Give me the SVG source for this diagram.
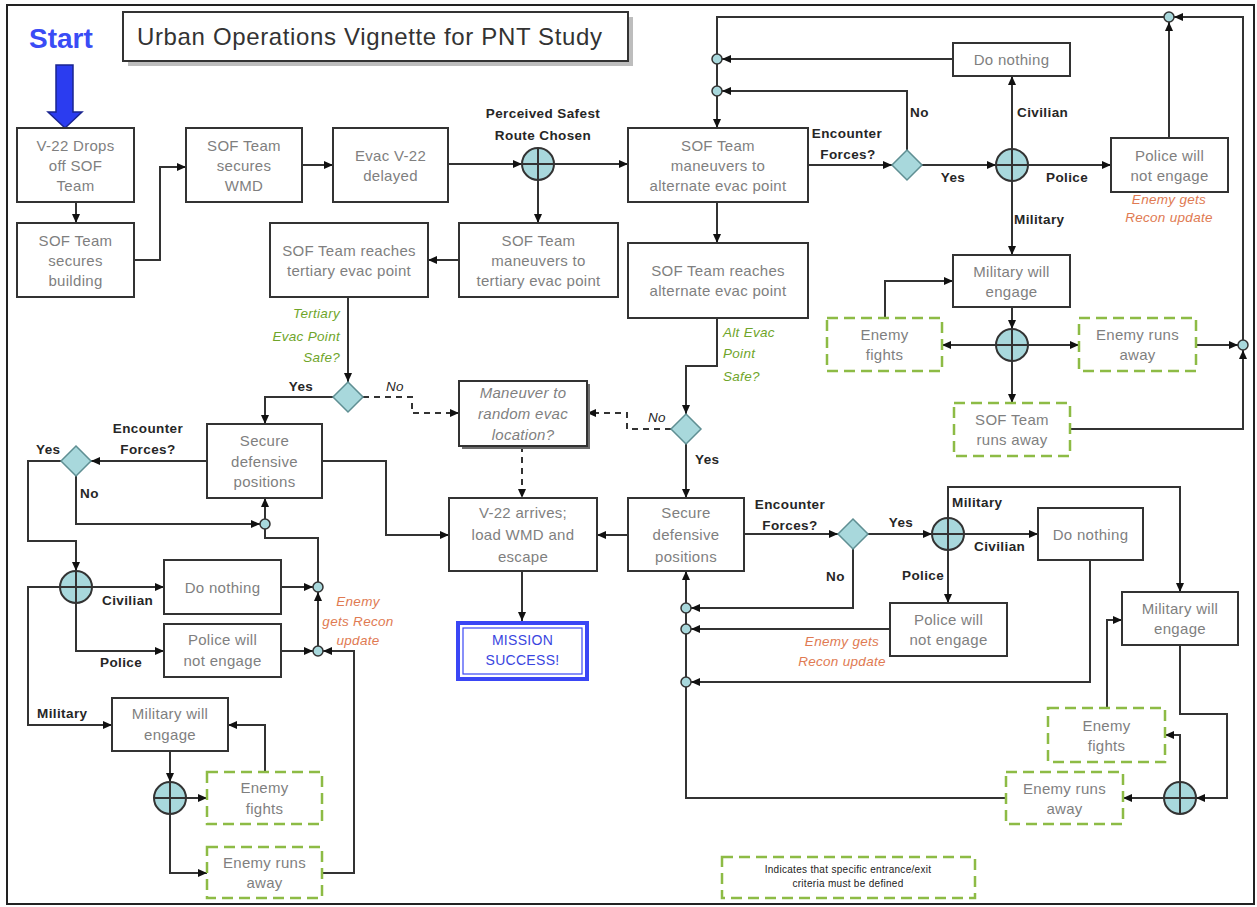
<svg xmlns="http://www.w3.org/2000/svg" width="1257" height="907" viewBox="0 0 1257 907">
<defs>
<marker id="a" markerUnits="userSpaceOnUse" markerWidth="10" markerHeight="10" refX="9" refY="5" orient="auto"><path d="M0,1 L9,5 L0,9 z" fill="#111"/></marker>
<style>
.box{fill:#fff;stroke:#333;stroke-width:2}
.dash{fill:#fff;stroke:#8dbb45;stroke-width:2.5;stroke-dasharray:11 6}
.t{font-family:"Liberation Sans",Arial,sans-serif;font-size:15px;fill:#7f7f7f;text-anchor:middle;letter-spacing:0.3px}
.ti{font-style:italic}
.l{font-family:"Liberation Sans",Arial,sans-serif;font-size:13.5px;font-weight:bold;fill:#262626;letter-spacing:0.4px}
.m{text-anchor:middle}
.e{text-anchor:end}
.i{font-family:"Liberation Sans",Arial,sans-serif;font-size:13.5px;font-style:italic;letter-spacing:0.3px}
.g{fill:#6fa52a}
.o{fill:#e07a52}
.k{fill:#262626}
.c{fill:none;stroke:#333;stroke-width:2}
.cd{fill:none;stroke:#333;stroke-width:2;stroke-dasharray:6 5}
.ar{marker-end:url(#a)}
.j{fill:#a8d8dc;stroke:#333;stroke-width:2}
.jx{stroke:#333;stroke-width:2}
.sj{fill:#a8d8dc;stroke:#333;stroke-width:1.5}
.dm{fill:#a8d8dc;stroke:#5f8f93;stroke-width:1.5}
</style>
</defs>
<rect width="1257" height="907" fill="#fff"/>
<rect x="7" y="5" width="1247" height="899" fill="none" stroke="#222" stroke-width="2"/>

<g id="title">
<rect x="128" y="17" width="505" height="49" fill="#bdbdbd"/>
<rect x="123" y="12" width="505" height="49" class="box"/>
<text x="137" y="45" font-family="Liberation Sans, Arial, sans-serif" font-size="24" fill="#333" textLength="465">Urban Operations Vignette for PNT Study</text>
</g>

<g id="start">
<text x="29" y="48" font-family="Liberation Sans, Arial, sans-serif" font-size="28" font-weight="bold" fill="#3a4cf5">Start</text>
<path d="M56,65 H73 V112 H82 L65,128 L48,112 H56 Z" fill="#2b3cf0" stroke="#1a2490" stroke-width="1.5"/>
</g>

<g id="connectors">
<path class="c ar" d="M76,202 V223"/>
<path class="c ar" d="M134,260 H160 V167 H186"/>
<path class="c ar" d="M302,165 H333"/>
<path class="c ar" d="M448,164 H522"/>
<path class="c ar" d="M554,164 H628"/>
<path class="c ar" d="M538,180 V223"/>
<path class="c ar" d="M459,260 H428"/>
<path class="c ar" d="M717,202 V243"/>
<path class="c ar" d="M808,165 H892"/>
<path class="c ar" d="M922,165 H996"/>
<path class="c ar" d="M1012,149 V76"/>
<path class="c ar" d="M1028,165 H1111"/>
<path class="c ar" d="M1012,181 V255"/>
<path class="c ar" d="M907,150 V91 H722"/>
<path class="c ar" d="M953,59 H722"/>
<path class="c ar" d="M1169,138 V22"/>
<path class="c ar" d="M1243,340 V17 H1174"/>
<path class="c" d="M1164,17 H717 V54"/>
<path class="c" d="M717,64 V86"/>
<path class="c ar" d="M717,96 V128"/>
<path class="c ar" d="M1012,307 V329"/>
<path class="c ar" d="M996,345 H942"/>
<path class="c ar" d="M1028,345 H1079"/>
<path class="c ar" d="M1012,361 V403"/>
<path class="c ar" d="M885,318 V281 H953"/>
<path class="c ar" d="M1196,345 H1238"/>
<path class="c ar" d="M1070,429 H1243 V350"/>
<path class="c ar" d="M348,297 V382"/>
<path class="c ar" d="M333,397 H265 V424"/>
<path class="cd ar" d="M363,397 H412 V413 H459"/>
<path class="c ar" d="M717,318 V366 H686 V414"/>
<path class="cd ar" d="M671,429 H627 V413 H587"/>
<path class="c ar" d="M686,444 V498"/>
<path class="cd ar" d="M522,446 V498"/>
<path class="c ar" d="M628,535 H597"/>
<path class="c ar" d="M522,571 V621"/>
<path class="c ar" d="M322,461 H386 V535 H449"/>
<path class="c ar" d="M207,461 H91"/>
<path class="c ar" d="M61,461 H28 V541 H76 V571"/>
<path class="c ar" d="M76,476 V524 H260"/>
<path class="c ar" d="M265,519 V498"/>
<path class="c" d="M318,582 V538 H265 V529"/>
<path class="c ar" d="M92,587 H164"/>
<path class="c ar" d="M281,587 H313"/>
<path class="c ar" d="M76,603 V651 H164"/>
<path class="c ar" d="M281,651 H313"/>
<path class="c ar" d="M318,646 V592"/>
<path class="c ar" d="M60,587 H28 V725 H112"/>
<path class="c ar" d="M170,751 V782"/>
<path class="c ar" d="M186,798 H207"/>
<path class="c ar" d="M170,814 V873 H207"/>
<path class="c ar" d="M265,772 V725 H228"/>
<path class="c ar" d="M322,873 H354 V651 H323"/>
<path class="c ar" d="M744,534 H838"/>
<path class="c ar" d="M868,534 H932"/>
<path class="c ar" d="M964,534 H1038"/>
<path class="c ar" d="M948,518 V487 H1180 V592"/>
<path class="c ar" d="M948,550 V603"/>
<path class="c ar" d="M853,549 V608 H691"/>
<path class="c ar" d="M890,629 H691"/>
<path class="c ar" d="M1090,560 V682 H691"/>
<path class="c ar" d="M1180,645 V714 H1227 V798 H1196"/>
<path class="c ar" d="M1180,782 V735 H1165"/>
<path class="c ar" d="M1107,708 V620 H1122"/>
<path class="c ar" d="M1164,798 H1123"/>
<path class="c ar" d="M1006,798 H686 V571"/>
</g>

<g id="junctions">
<g id="j1"><circle cx="538" cy="164" r="16" class="j"/><path class="jx" d="M522,164 H554 M538,148 V180"/></g>
<g id="j2"><circle cx="1012" cy="165" r="16" class="j"/><path class="jx" d="M996,165 H1028 M1012,149 V181"/></g>
<g id="j3"><circle cx="1012" cy="345" r="16" class="j"/><path class="jx" d="M996,345 H1028 M1012,329 V361"/></g>
<g id="j4"><circle cx="76" cy="587" r="16" class="j"/><path class="jx" d="M60,587 H92 M76,571 V603"/></g>
<g id="j5"><circle cx="170" cy="798" r="16" class="j"/><path class="jx" d="M154,798 H186 M170,782 V814"/></g>
<g id="j6"><circle cx="948" cy="534" r="16" class="j"/><path class="jx" d="M932,534 H964 M948,518 V550"/></g>
<g id="j7"><circle cx="1180" cy="798" r="16" class="j"/><path class="jx" d="M1164,798 H1196 M1180,782 V814"/></g>
<circle id="s1" cx="717" cy="59" r="5" class="sj"/>
<circle id="s2" cx="717" cy="91" r="5" class="sj"/>
<circle id="s3" cx="1169" cy="17" r="5" class="sj"/>
<circle id="s4" cx="1243" cy="345" r="5" class="sj"/>
<circle id="s5" cx="265" cy="524" r="5" class="sj"/>
<circle id="s6" cx="318" cy="587" r="5" class="sj"/>
<circle id="s7" cx="318" cy="651" r="5" class="sj"/>
<circle id="s8" cx="686" cy="608" r="5" class="sj"/>
<circle id="s9" cx="686" cy="629" r="5" class="sj"/>
<circle id="s10" cx="686" cy="682" r="5" class="sj"/>
</g>

<g id="d1"><path class="dm" d="M907,150 L922,165 L907,180 L892,165 Z"/></g>
<g id="d2"><path class="dm" d="M348,382 L363,397 L348,412 L333,397 Z"/></g>
<g id="d3"><path class="dm" d="M686,414 L701,429 L686,444 L671,429 Z"/></g>
<g id="d4"><path class="dm" d="M76,446 L91,461 L76,476 L61,461 Z"/></g>
<g id="d5"><path class="dm" d="M853,519 L868,534 L853,549 L838,534 Z"/></g>

<g id="n1"><rect class="box" x="17" y="128" width="117" height="74"/><text class="t" x="75.5" y="151">V-22 Drops</text><text class="t" x="75.5" y="171">off SOF</text><text class="t" x="75.5" y="191">Team</text></g>
<g id="n2"><rect class="box" x="17" y="223" width="117" height="74"/><text class="t" x="75.5" y="246">SOF Team</text><text class="t" x="75.5" y="266">secures</text><text class="t" x="75.5" y="286">building</text></g>
<g id="n3"><rect class="box" x="186" y="128" width="116" height="74"/><text class="t" x="244" y="151">SOF Team</text><text class="t" x="244" y="171">secures</text><text class="t" x="244" y="191">WMD</text></g>
<g id="n4"><rect class="box" x="333" y="128" width="115" height="74"/><text class="t" x="390.5" y="161">Evac V-22</text><text class="t" x="390.5" y="181">delayed</text></g>
<g id="n5"><rect class="box" x="628" y="128" width="180" height="74"/><text class="t" x="718" y="151">SOF Team</text><text class="t" x="718" y="171">maneuvers to</text><text class="t" x="718" y="191">alternate evac point</text></g>
<g id="n6"><rect class="box" x="459" y="223" width="159" height="74"/><text class="t" x="538.5" y="246">SOF Team</text><text class="t" x="538.5" y="266">maneuvers to</text><text class="t" x="538.5" y="286">tertiary evac point</text></g>
<g id="n7"><rect class="box" x="270" y="223" width="158" height="74"/><text class="t" x="349" y="256">SOF Team reaches</text><text class="t" x="349" y="276">tertiary evac point</text></g>
<g id="n8"><rect class="box" x="628" y="243" width="180" height="75"/><text class="t" x="718" y="276">SOF Team reaches</text><text class="t" x="718" y="296">alternate evac point</text></g>
<g id="n9"><rect class="box" x="953" y="43" width="117" height="33"/><text class="t" x="1011.5" y="65">Do nothing</text></g>
<g id="n10"><rect class="box" x="1111" y="138" width="117" height="54"/><text class="t" x="1169.5" y="161">Police will</text><text class="t" x="1169.5" y="181">not engage</text></g>
<g id="n11"><rect class="box" x="953" y="255" width="117" height="52"/><text class="t" x="1011.5" y="277">Military will</text><text class="t" x="1011.5" y="297">engage</text></g>
<g id="n12"><rect class="dash" x="827" y="318" width="115" height="53"/><text class="t" x="884.5" y="340">Enemy</text><text class="t" x="884.5" y="360">fights</text></g>
<g id="n13"><rect class="dash" x="1079" y="318" width="117" height="53"/><text class="t" x="1137.5" y="340">Enemy  runs</text><text class="t" x="1137.5" y="360">away</text></g>
<g id="n14"><rect class="dash" x="954" y="403" width="116" height="53"/><text class="t" x="1012" y="425">SOF Team</text><text class="t" x="1012" y="445">runs away</text></g>
<g id="n15"><rect x="462" y="384" width="128" height="65" fill="#6e6e6e"/><rect class="box" x="459" y="381" width="128" height="65"/><text class="t ti" x="523" y="398">Maneuver to</text><text class="t ti" x="523" y="419">random evac</text><text class="t ti" x="523" y="440">location?</text></g>
<g id="n16"><rect class="box" x="207" y="424" width="115" height="74"/><text class="t" x="264.5" y="446">Secure</text><text class="t" x="264.5" y="467">defensive</text><text class="t" x="264.5" y="487">positions</text></g>
<g id="n17"><rect class="box" x="449" y="498" width="148" height="73"/><text class="t" x="523" y="518">V-22 arrives;</text><text class="t" x="523" y="540">load WMD and</text><text class="t" x="523" y="562">escape</text></g>
<g id="n18"><rect class="box" x="628" y="498" width="116" height="73"/><text class="t" x="686" y="518">Secure</text><text class="t" x="686" y="540">defensive</text><text class="t" x="686" y="562">positions</text></g>
<g id="n19"><rect x="458" y="623" width="129" height="56" fill="#fff" stroke="#3a46f5" stroke-width="4"/><rect x="463" y="628" width="119" height="46" fill="none" stroke="#3a46f5" stroke-width="1.2"/><text class="t" x="522.5" y="645" style="fill:#3a46e0;font-size:14px">MISSION</text><text class="t" x="522.5" y="665" style="fill:#3a46e0;font-size:14px">SUCCESS!</text></g>
<g id="n20"><rect class="box" x="164" y="560" width="117" height="54"/><text class="t" x="222.5" y="593">Do nothing</text></g>
<g id="n21"><rect class="box" x="164" y="624" width="117" height="53"/><text class="t" x="222.5" y="645">Police will</text><text class="t" x="222.5" y="666">not engage</text></g>
<g id="n22"><rect class="box" x="112" y="698" width="116" height="53"/><text class="t" x="170" y="719">Military will</text><text class="t" x="170" y="740">engage</text></g>
<g id="n23"><rect class="dash" x="207" y="772" width="115" height="52"/><text class="t" x="264.5" y="793">Enemy</text><text class="t" x="264.5" y="814">fights</text></g>
<g id="n24"><rect class="dash" x="207" y="847" width="115" height="51"/><text class="t" x="264.5" y="868">Enemy  runs</text><text class="t" x="264.5" y="888">away</text></g>
<g id="n25"><rect class="box" x="1038" y="508" width="105" height="52"/><text class="t" x="1090.5" y="540">Do nothing</text></g>
<g id="n26"><rect class="box" x="890" y="603" width="117" height="53"/><text class="t" x="948.5" y="625">Police will</text><text class="t" x="948.5" y="645">not engage</text></g>
<g id="n27"><rect class="box" x="1122" y="592" width="116" height="53"/><text class="t" x="1180" y="614">Military will</text><text class="t" x="1180" y="634">engage</text></g>
<g id="n28"><rect class="dash" x="1048" y="708" width="117" height="54"/><text class="t" x="1106.5" y="731">Enemy</text><text class="t" x="1106.5" y="751">fights</text></g>
<g id="n29"><rect class="dash" x="1006" y="772" width="117" height="52"/><text class="t" x="1064.5" y="794">Enemy  runs</text><text class="t" x="1064.5" y="814">away</text></g>
<g id="legend"><rect class="dash" x="722" y="857" width="253" height="41"/><text x="848" y="873" font-family="Liberation Sans, Arial, sans-serif" font-size="10" fill="#222" text-anchor="middle" letter-spacing="0.3">Indicates that specific entrance/exit</text><text x="848" y="887" font-family="Liberation Sans, Arial, sans-serif" font-size="10" fill="#222" text-anchor="middle" letter-spacing="0.3">criteria must be defined</text></g>

<g id="labels">
<text class="l m" x="543" y="118">Perceived Safest</text>
<text class="l m" x="543" y="140">Route Chosen</text>
<text class="l m" x="847" y="138">Encounter</text>
<text class="l m" x="848" y="159">Forces?</text>
<text class="l" x="910" y="117">No</text>
<text class="l m" x="953" y="182">Yes</text>
<text class="l" x="1017" y="117">Civilian</text>
<text class="l" x="1046" y="182">Police</text>
<text class="l" x="1014" y="224">Military</text>
<text class="l m" x="301" y="391">Yes</text>
<text class="l" x="695" y="464">Yes</text>
<text class="l m" x="148" y="433">Encounter</text>
<text class="l m" x="148" y="454">Forces?</text>
<text class="l" x="36" y="454">Yes</text>
<text class="l" x="80" y="498">No</text>
<text class="l" x="102" y="605">Civilian</text>
<text class="l" x="100" y="667">Police</text>
<text class="l" x="37" y="718">Military</text>
<text class="l m" x="790" y="509">Encounter</text>
<text class="l m" x="790" y="530">Forces?</text>
<text class="l m" x="901" y="527">Yes</text>
<text class="l" x="952" y="507">Military</text>
<text class="l" x="974" y="551">Civilian</text>
<text class="l" x="902" y="580">Police</text>
<text class="l" x="826" y="581">No</text>
<text class="i k" x="386" y="391">No</text>
<text class="i k" x="648" y="422">No</text>
<text class="i g e" x="340" y="318">Tertiary</text>
<text class="i g e" x="340" y="341">Evac Point</text>
<text class="i g e" x="340" y="362">Safe?</text>
<text class="i g" x="723" y="337">Alt Evac</text>
<text class="i g" x="723" y="358">Point</text>
<text class="i g" x="723" y="381">Safe?</text>
<text class="i o m" x="1169" y="204">Enemy gets</text>
<text class="i o m" x="1169" y="222">Recon update</text>
<text class="i o m" x="358" y="606">Enemy</text>
<text class="i o m" x="358" y="626">gets Recon</text>
<text class="i o m" x="358" y="645">update</text>
<text class="i o m" x="842" y="646">Enemy gets</text>
<text class="i o m" x="842" y="666">Recon update</text>
</g>
</svg>
